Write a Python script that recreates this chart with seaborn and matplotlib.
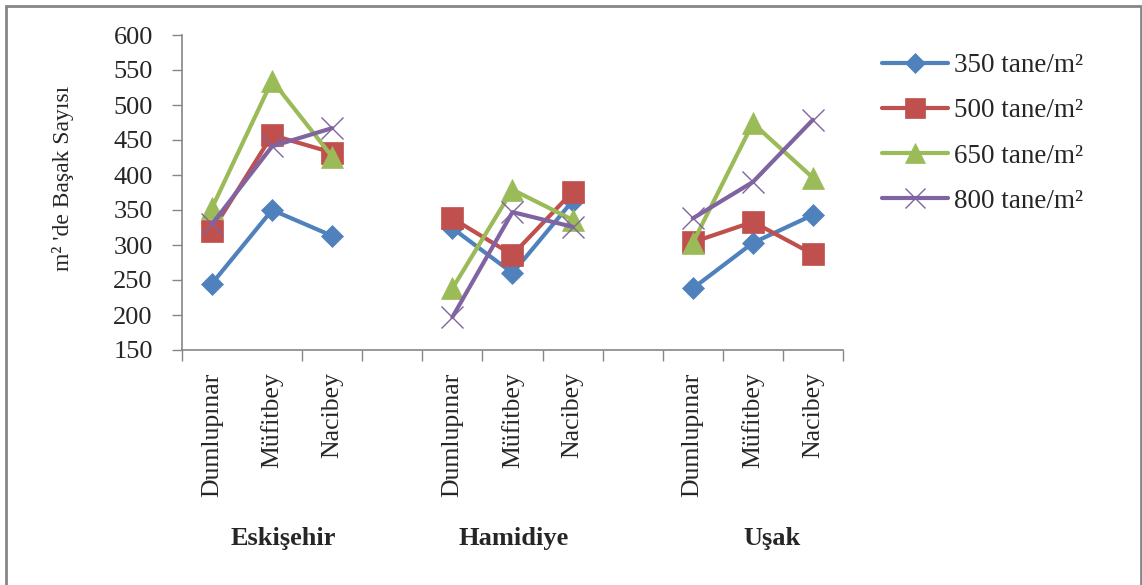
import numpy as np
import pandas as pd
import matplotlib
matplotlib.use("Agg")
import matplotlib.pyplot as plt
from matplotlib.lines import Line2D
from matplotlib.patches import Rectangle
import seaborn as sns

# ---- data ----
locations = ["Eskişehir", "Hamidiye", "Uşak"]
varieties = ["Dumlupınar", "Müfitbey", "Nacibey"]
densities = ["350 tane/m²", "500 tane/m²", "650 tane/m²", "800 tane/m²"]

# values per density: Eskişehir (D, M, N), Hamidiye (D, M, N), Uşak (D, M, N)
v350 = [245, 350, 313, 324, 260, 363, 238, 303, 343]
v500 = [320, 457, 432, 338, 286, 376, 304, 333, 287]
v650 = [353, 535, 426, 238, 379, 336, 303, 474, 396]
v800 = [330, 441, 467, 197, 347, 326, 338, 390, 479]
series = [v350, v500, v650, v800]

yticks = [150, 200, 250, 300, 350, 400, 450, 500, 550, 600]

# ---- styles ----
colors = ["#4F81BD", "#C0504D", "#9BBB59", "#8064A2"]
markers = ["D", "s", "^", "x"]
msizes = [11, 16, 16, 16]
mews = [0.5, 0.5, 0.5, 1.0]

# positions: each group of 3 separated by a gap slot
rows = []
for gi, loc in enumerate(locations):
    for vi, var in enumerate(varieties):
        pos = gi * 4 + vi
        for di, dens in enumerate(densities):
            rows.append(dict(loc=loc, var=var, pos=pos, dens=dens,
                             val=series[di][gi * 3 + vi]))
df = pd.DataFrame(rows)

sns.set_theme(style="white")
plt.rcParams["font.family"] = ["Liberation Serif", "DejaVu Serif"]

fig = plt.figure(figsize=(11.42, 5.85), dpi=100)
ax = fig.add_axes([182 / 1142, 1 - 350 / 585, (843 - 182) / 1142, (350 - 35) / 585])

for di, dens in enumerate(densities):
    sub = df[df["dens"] == dens]
    sns.lineplot(data=sub, x="pos", y="val", units="loc", estimator=None,
                 ax=ax, color=colors[di], lw=3, marker=markers[di],
                 markersize=msizes[di], mec=colors[di], mew=mews[di],
                 legend=False, sort=False)

ax.set_xlim(-0.5, 10.5)
ax.set_ylim(150, 600)
ax.set_yticks(yticks)
ax.set_yticklabels([str(t) for t in yticks], fontsize=19)
ax.tick_params(axis="y", direction="out", length=7, width=1, color="#868686",
               pad=14, left=True)

xpos = [gi * 4 + vi for gi in range(3) for vi in range(3)]
ax.set_xticks(xpos)
ax.set_xticklabels(varieties * 3, rotation=90, fontsize=18.5, va="top")
ax.tick_params(axis="x", which="major", length=0, pad=16)
bounds = [-0.5] + [b + 0.5 for b in range(1, 11)]
ax.set_xticks(bounds, minor=True)
ax.tick_params(axis="x", which="minor", direction="out", length=8, width=1,
               color="#868686", bottom=True)

for side in ["top", "right"]:
    ax.spines[side].set_visible(False)
for side in ["left", "bottom"]:
    ax.spines[side].set_color("#868686")
    ax.spines[side].set_linewidth(1.2)
ax.set_xlabel("")
ax.set_ylabel("")
ax.grid(False)

# group labels
group_px = [283, 514, 772]
for loc, px in zip(locations, group_px):
    fig.text(px / 1142, 1 - 538 / 585, loc, fontsize=19, fontweight="bold",
             ha="center", va="center")

# y label
fig.text(63 / 1142, 1 - 178 / 585, "m² 'de Başak Sayısı", rotation=90,
         fontsize=17, ha="center", va="center")

# legend
handles = [Line2D([], [], color=c, lw=3, marker=m, markersize=s * 0.9, mec=c, mew=w)
           for c, m, s, w in zip(colors, markers, msizes, mews)]
fig.legend(handles, densities, loc="upper left",
           bbox_to_anchor=(882 / 1142, 1 - 53 / 585), frameon=False,
           borderpad=0, borderaxespad=0,
           fontsize=19.5, handlelength=2.45, handletextpad=0.2, labelspacing=0.75)

# outer frame
fig.patches.append(Rectangle((6 / 1142, -0.05), (1141 - 6) / 1142, 1.05 - 6 / 585,
                             transform=fig.transFigure, fill=False,
                             edgecolor="#868686", lw=2))

fig.savefig("out.png", dpi=100)
